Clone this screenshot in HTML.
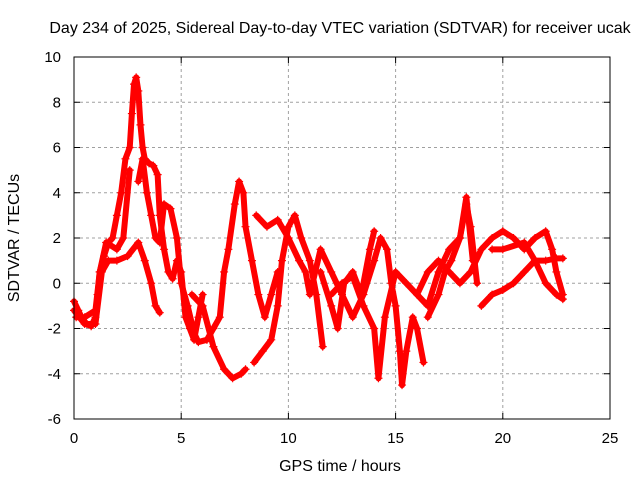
<!DOCTYPE html>
<html><head><meta charset="utf-8"><style>
body{margin:0;background:#fff}
svg{display:block;font-family:"Liberation Sans",sans-serif}
</style></head><body>
<svg id="chart" width="640" height="480" viewBox="0 0 640 480">
<text x="340" y="33" text-anchor="middle" font-size="16">Day 234 of 2025, Sidereal Day-to-day VTEC variation (SDTVAR) for receiver ucak</text>
<text x="0" y="0" transform="translate(19,238) rotate(-90)" text-anchor="middle" font-size="16">SDTVAR / TECUs</text>
<text x="340" y="471" text-anchor="middle" font-size="16">GPS time / hours</text>
<g id="grid"></g><g id="ticks"></g><g id="marks"></g>
<rect x="74" y="57" width="536" height="362" fill="none" stroke="#000" stroke-width="1"/>
</svg>
<script>
const xTicks=[0,5,10,15,20,25];
const yTicks=[-6,-4,-2,0,2,4,6,8,10];
const t1x=[0,0.2,0.4,0.6,0.8,1.0,1.1,1.2,1.4,1.6,1.8,2.0,2.2,2.4,2.6,2.7,2.8,2.9,3.0,3.1,3.2,3.3,3.5,3.7,3.9,4.0,4.2,4.4,4.6,4.8,5.0,5.2,5.4,5.6,5.8,6.0];
const t1y=[-0.8,-1.2,-1.6,-1.8,-1.9,-1.5,-0.5,0.5,1.2,1.8,2.0,3.0,4.0,5.5,6.0,7.5,8.8,9.1,8.5,7.0,6.0,5.5,5.3,5.2,4.8,3.0,1.5,0.5,0.2,1.0,0.5,-1.5,-2.0,-2.5,-1.5,-0.5];
const t2x=[0,0.5,1.0,1.3,1.6,2.0,2.5,3.0,3.3,3.6,3.8,4.0];
const t2y=[-1.2,-1.8,-1.8,0.5,1.0,1.0,1.2,1.8,1.0,0.0,-1.0,-1.3];
const t3x=[3.0,3.2,3.4,3.6,3.8,4.0,4.2,4.5,4.8,5.0,5.3,5.6,5.8,6.2,6.5,6.8,7.0,7.2,7.5,7.7,7.9,8.0,8.3,8.6,8.9,9.2,9.5];
const t3y=[4.5,5.5,4.0,3.0,2.0,1.8,3.5,3.3,2.0,0,-1.0,-2.2,-2.6,-2.5,-2.0,-1.5,0.5,1.5,3.5,4.5,4.0,2.5,1.0,-0.5,-1.5,-0.5,0.5];
const t4x=[5.5,6.0,6.5,7.0,7.4,7.8,8.0];
const t4y=[-0.5,-1.0,-2.8,-3.8,-4.2,-4.0,-3.8];
const t5x=[8.4,8.8,9.2,9.5,9.7,10.0,10.3,10.6,11.0,11.3,11.6];
const t5y=[-3.5,-3.0,-2.5,-1.0,1.0,2.5,3.0,2.0,1.0,-0.5,-2.8];
const t6x=[8.5,9.0,9.5,10.0,10.5,10.8,11.0,11.5,12,12.5,13,13.5,14,14.3,14.6,14.8,15,15.2,15.3,15.5,15.8,16.0,16.3];
const t6y=[3.0,2.5,2.8,2.0,1.0,0.5,-0.5,1.5,0.5,-0.5,-1.5,-0.5,1.0,2.0,1.5,0.0,-1.0,-3.0,-4.5,-3.0,-1.5,-2.0,-3.5];
const t7x=[12,12.5,13,13.5,14,14.2,14.5,15,15.5,16,16.5,17,17.5,18,18.3,18.5,18.8];
const t7y=[-0.5,0.0,0.3,-1.0,-2.0,-4.2,-1.5,0.5,0.0,-0.5,-1.0,0.5,1.5,2.0,3.5,2.5,0.0];
const t8x=[16,16.5,17,17.5,18,18.5,19,19.5,20,20.5,21,21.5,22,22.3,22.5,22.8];
const t8y=[-0.5,0.5,1.0,0.5,0,0.5,1.5,2.0,2.3,2.0,1.5,2.0,2.3,1.5,0.5,-0.5];
const t9x=[19,19.5,20,20.5,21,21.5,22,22.5,22.8];
const t9y=[-1.0,-0.5,-0.3,0.0,0.5,1.0,1.0,1.1,1.1];
const t10x=[19.5,20,21,21.5,22,22.5,22.8];
const t10y=[1.5,1.5,1.8,1.0,0.0,-0.5,-0.7];
const t11x=[11.5,12,12.3,12.6,13,13.4,13.8,14.0];
const t11y=[0.5,-1.0,-2.0,0.0,0.5,-0.5,1.5,2.3];
const t12x=[16.5,17,17.3,17.6,18,18.3,18.6];
const t12y=[-1.5,-0.5,0.5,1.0,2.0,3.8,1.0];
const t13x=[0.1,0.5,1.0,1.2,1.5,2.0,2.3,2.6];
const t13y=[-1.5,-1.5,-1.2,0.5,1.8,1.5,2.0,5.0];
const tracks=[[t1x,t1y],[t2x,t2y],[t3x,t3y],[t4x,t4y],[t5x,t5y],[t6x,t6y],[t7x,t7y],[t8x,t8y],[t9x,t9y],[t10x,t10y],[t11x,t11y],[t12x,t12y],[t13x,t13y]];
const X=v=>74+v*536/25, Y=v=>419-(v+6)*362/16;
const NS='http://www.w3.org/2000/svg';
const grid=document.getElementById('grid'),ticks=document.getElementById('ticks'),marks=document.getElementById('marks');
function mk(tag,at,p){const e=document.createElementNS(NS,tag);for(const k in at)e.setAttribute(k,at[k]);p.appendChild(e);return e;}
xTicks.forEach(t=>{
  const x=X(t);
  if(t>0&&t<25){const g=mk('line',{x1:x,x2:x,y1:57,y2:419,stroke:'#a0a0a0','stroke-dasharray':'3,3'},grid);
  
  }
  mk('line',{x1:x,x2:x,y1:419,y2:413,stroke:'#000'},ticks);
  mk('line',{x1:x,x2:x,y1:57,y2:63,stroke:'#000'},ticks);
  const l=mk('text',{x:x,y:443,'text-anchor':'middle','font-size':'15'},ticks);l.textContent=t;
  
  
});
yTicks.forEach(t=>{
  const y=Y(t);
  if(t>-6&&t<10){const g=mk('line',{x1:74,x2:610,y1:y,y2:y,stroke:'#a0a0a0','stroke-dasharray':'3,3'},grid);
  
  }
  mk('line',{x1:74,x2:80,y1:y,y2:y,stroke:'#000'},ticks);
  mk('line',{x1:610,x2:604,y1:y,y2:y,stroke:'#000'},ticks);
  const l=mk('text',{x:61,y:y+5,'text-anchor':'end','font-size':'15'},ticks);l.textContent=t;
  
  
});
tracks.forEach(([xs,ys])=>{
  const pts=xs.map((v,i)=>X(v)+','+Y(ys[i])).join(' ');
  const pl=mk('polyline',{points:pts,fill:'none',stroke:'#ff0000','stroke-width':'6','stroke-linejoin':'round','stroke-linecap':'round'},marks);
  
  
  xs.forEach((v,i)=>{
    const x=X(v),y=Y(ys[i]);
    const p=mk('path',{d:`M${x-4},${y}H${x+4}M${x},${y-4}V${y+4}`,stroke:'#ff0000','stroke-width':'1.2'},marks);
    
    
  });
});
</script>
</body></html>
